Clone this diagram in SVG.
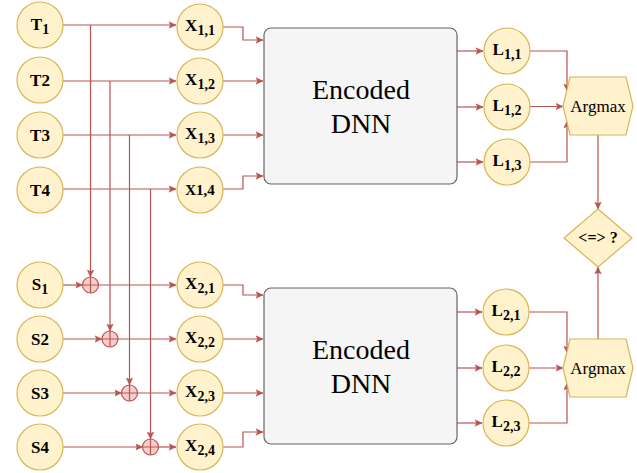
<svg xmlns="http://www.w3.org/2000/svg" width="637" height="473" viewBox="0 0 637 473">
<style>
.n{fill:#fff2cc;stroke:#d6b656;stroke-width:1.2}
.x{fill:#f8cecc;stroke:#b85450;stroke-width:1.2}
.b{fill:#f5f5f5;stroke:#666666;stroke-width:1.2}
.c{fill:none;stroke:#b85450;stroke-width:1.2}
text{font-family:'Liberation Serif','Tinos','Times New Roman','Nimbus Roman','DejaVu Serif',serif}
.l{font-weight:bold;font-size:17px;text-anchor:middle;fill:#000}
.s{font-size:14px}
.t{font-size:28px;text-anchor:middle;fill:#000}
.a{font-size:17px;text-anchor:middle;fill:#000}
</style>
<defs>
<marker id="ar" markerUnits="userSpaceOnUse" markerWidth="8" markerHeight="8" refX="7" refY="4" orient="auto">
<path d="M0,0.8 L7,4 L0,7.2 L1.6,4 z" fill="#b85450" stroke="#b85450" stroke-width="0.5"/>
</marker>
</defs>
<rect width="637" height="473" fill="#ffffff"/>
<g id="connectors">
<path class="c" d="M63,25 H176" marker-end="url(#ar)"/>
<path class="c" d="M63,81 H176" marker-end="url(#ar)"/>
<path class="c" d="M63,135 H176" marker-end="url(#ar)"/>
<path class="c" d="M63,189 H176" marker-end="url(#ar)"/>
<path class="c" d="M90.5,25 V277" marker-end="url(#ar)"/>
<path class="c" d="M110,81 V331" marker-end="url(#ar)"/>
<path class="c" d="M129.5,135 V385" marker-end="url(#ar)"/>
<path class="c" d="M150.5,189 V439" marker-end="url(#ar)"/>
<path class="c" d="M63,285 H82.5" marker-end="url(#ar)"/>
<path class="c" d="M63,339 H102" marker-end="url(#ar)"/>
<path class="c" d="M63,393 H121.5" marker-end="url(#ar)"/>
<path class="c" d="M63,447 H142.5" marker-end="url(#ar)"/>
<path class="c" d="M98.5,285 H176" marker-end="url(#ar)"/>
<path class="c" d="M118,339 H176" marker-end="url(#ar)"/>
<path class="c" d="M137.5,393 H176" marker-end="url(#ar)"/>
<path class="c" d="M158.5,447 H176" marker-end="url(#ar)"/>
<path class="c" d="M223,27 H243 V40 H263" marker-end="url(#ar)"/>
<path class="c" d="M223,81 H263" marker-end="url(#ar)"/>
<path class="c" d="M223,135 H263" marker-end="url(#ar)"/>
<path class="c" d="M223,189 H243 V176 H263" marker-end="url(#ar)"/>
<path class="c" d="M223,285 H243 V295 H263" marker-end="url(#ar)"/>
<path class="c" d="M223,339 H263" marker-end="url(#ar)"/>
<path class="c" d="M223,393 H263" marker-end="url(#ar)"/>
<path class="c" d="M223,447 H243 V432 H263" marker-end="url(#ar)"/>
<path class="c" d="M457,51 H483" marker-end="url(#ar)"/>
<path class="c" d="M457,107 H483" marker-end="url(#ar)"/>
<path class="c" d="M457,162 H483" marker-end="url(#ar)"/>
<path class="c" d="M457,312 H482" marker-end="url(#ar)"/>
<path class="c" d="M457,368 H482" marker-end="url(#ar)"/>
<path class="c" d="M457,423 H482" marker-end="url(#ar)"/>
<path class="c" d="M530,51 H567 V91" marker-end="url(#ar)"/>
<path class="c" d="M530,106.5 H563" marker-end="url(#ar)"/>
<path class="c" d="M530,162 H567 V121" marker-end="url(#ar)"/>
<path class="c" d="M529,312 H567 V353" marker-end="url(#ar)"/>
<path class="c" d="M529,368 H563" marker-end="url(#ar)"/>
<path class="c" d="M529,423 H567 V383" marker-end="url(#ar)"/>
<path class="c" d="M598,135 V209" marker-end="url(#ar)"/>
<path class="c" d="M598,339 V267" marker-end="url(#ar)"/>
</g>
<g id="T1"><circle class="n" cx="40" cy="25" r="23"/><text class="l" x="40" y="30">T<tspan class="s" dy="3.5">1</tspan></text></g>
<g id="T2"><circle class="n" cx="40" cy="80" r="23"/><text class="l" x="40" y="86">T2</text></g>
<g id="T3"><circle class="n" cx="40" cy="135" r="23"/><text class="l" x="40" y="141">T3</text></g>
<g id="T4"><circle class="n" cx="40" cy="190" r="23"/><text class="l" x="40" y="196">T4</text></g>
<g id="S1"><circle class="n" cx="40" cy="285" r="23"/><text class="l" x="40" y="290">S<tspan class="s" dy="3.5">1</tspan></text></g>
<g id="S2"><circle class="n" cx="40" cy="339" r="23"/><text class="l" x="40" y="345">S2</text></g>
<g id="S3"><circle class="n" cx="40" cy="393" r="23"/><text class="l" x="40" y="399">S3</text></g>
<g id="S4"><circle class="n" cx="40" cy="447" r="23"/><text class="l" x="40" y="453">S4</text></g>
<g id="XOR1"><circle class="x" cx="90.5" cy="285" r="8"/><path class="c" d="M82.5,285 H98.5 M90.5,277 V293"/></g>
<g id="XOR2"><circle class="x" cx="110" cy="339" r="8"/><path class="c" d="M102,339 H118 M110,331 V347"/></g>
<g id="XOR3"><circle class="x" cx="129.5" cy="393" r="8"/><path class="c" d="M121.5,393 H137.5 M129.5,385 V401"/></g>
<g id="XOR4"><circle class="x" cx="150.5" cy="447" r="8"/><path class="c" d="M142.5,447 H158.5 M150.5,439 V455"/></g>
<g id="X11"><circle class="n" cx="200" cy="27" r="23"/><text class="l" x="200" y="31">X<tspan class="s" dy="3.5">1,1</tspan></text></g>
<g id="X12"><circle class="n" cx="200" cy="81" r="23"/><text class="l" x="200" y="85">X<tspan class="s" dy="3.5">1,2</tspan></text></g>
<g id="X13"><circle class="n" cx="200" cy="135" r="23"/><text class="l" x="200" y="139">X<tspan class="s" dy="3.5">1,3</tspan></text></g>
<g id="X14"><circle class="n" cx="200" cy="190" r="23"/><text class="l" x="200" y="195" style="font-size:15px">X1,4</text></g>
<g id="X21"><circle class="n" cx="200" cy="285" r="23"/><text class="l" x="200" y="289">X<tspan class="s" dy="3.5">2,1</tspan></text></g>
<g id="X22"><circle class="n" cx="200" cy="339" r="23"/><text class="l" x="200" y="343">X<tspan class="s" dy="3.5">2,2</tspan></text></g>
<g id="X23"><circle class="n" cx="200" cy="393" r="23"/><text class="l" x="200" y="397">X<tspan class="s" dy="3.5">2,3</tspan></text></g>
<g id="X24"><circle class="n" cx="200" cy="447" r="23"/><text class="l" x="200" y="451">X<tspan class="s" dy="3.5">2,4</tspan></text></g>
<g id="DNN1"><rect class="b" x="264" y="28" width="193" height="156" rx="7"/><text class="t" x="361" y="99">Encoded</text><text class="t" x="361" y="133">DNN</text></g>
<g id="DNN2"><rect class="b" x="264" y="288" width="193" height="156" rx="7"/><text class="t" x="361" y="359">Encoded</text><text class="t" x="361" y="393">DNN</text></g>
<g id="L11"><circle class="n" cx="507" cy="51" r="23"/><text class="l" x="507" y="55">L<tspan class="s" dy="3.5">1,1</tspan></text></g>
<g id="L12"><circle class="n" cx="507" cy="107" r="23"/><text class="l" x="507" y="111">L<tspan class="s" dy="3.5">1,2</tspan></text></g>
<g id="L13"><circle class="n" cx="507" cy="162" r="23"/><text class="l" x="507" y="166">L<tspan class="s" dy="3.5">1,3</tspan></text></g>
<g id="L21"><circle class="n" cx="506" cy="312" r="23"/><text class="l" x="506" y="316">L<tspan class="s" dy="3.5">2,1</tspan></text></g>
<g id="L22"><circle class="n" cx="506" cy="368" r="23"/><text class="l" x="506" y="372">L<tspan class="s" dy="3.5">2,2</tspan></text></g>
<g id="L23"><circle class="n" cx="506" cy="423" r="23"/><text class="l" x="506" y="427">L<tspan class="s" dy="3.5">2,3</tspan></text></g>
<g id="Argmax1"><polygon class="n" points="563,106 570,77 626,77 633,106 626,135 570,135"/><text class="a" x="598" y="112">Argmax</text></g>
<g id="Argmax2"><polygon class="n" points="563,368 570,339 626,339 633,368 626,397 570,397"/><text class="a" x="598" y="374">Argmax</text></g>
<g id="Compare"><polygon class="n" points="598,209 632,238 598,267 564,238"/><text class="l" x="598" y="243" style="font-size:16px">&lt;=&gt; ?</text></g>
</svg>
